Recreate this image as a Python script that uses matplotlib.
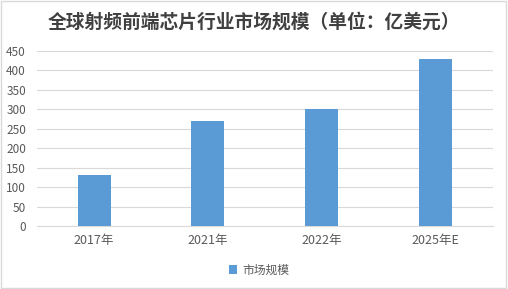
import matplotlib.pyplot as plt
from matplotlib.patches import Rectangle

plt.rcParams["font.family"] = ["Noto Sans CJK SC", "DejaVu Sans"]

years = ["2017年", "2021年", "2022年", "2025年E"]
market_size = [130, 270, 300, 430]
y_ticks = [0, 50, 100, 150, 200, 250, 300, 350, 400, 450]

bar_color = "#5b9bd5"
text_color = "#595959"

fig = plt.figure(figsize=(5.08, 2.89), dpi=100)
ax = fig.add_axes([0.073, 0.218, 0.897, 0.606])

x = range(len(years))
ax.bar(x, market_size, width=0.29, color=bar_color, label="市场规模", zorder=3)

ax.set_xlim(-0.5, len(years) - 0.5)
ax.set_ylim(0, 450)
ax.set_yticks(y_ticks)
ax.set_xticks(list(x))
ax.set_xticklabels(years)
ax.tick_params(axis="both", length=0, colors=text_color)
ax.tick_params(axis="x", pad=6, labelsize=9)
ax.tick_params(axis="y", pad=8, labelsize=8.5)
ax.grid(axis="y", color="#d9d9d9", linewidth=0.8, zorder=0)
for s in ["top", "right", "left"]:
    ax.spines[s].set_visible(False)
ax.spines["bottom"].set_color("#d9d9d9")

fig.text(0.5, 0.925, "全球射频前端芯片行业市场规模（单位：亿美元）",
         ha="center", va="center", fontsize=13.5, fontweight="bold", color="#404040")

fig.legend(loc="center", bbox_to_anchor=(0.51, 0.065), frameon=False,
           fontsize=8.5, handlelength=0.7, handleheight=0.7, handletextpad=0.4,
           labelcolor=text_color)

fig.patches.append(Rectangle((0.002, 0.003), 0.995, 0.994, transform=fig.transFigure,
                             fill=False, edgecolor="#d9d9d9", linewidth=1))

fig.savefig("out.png", dpi=100)
